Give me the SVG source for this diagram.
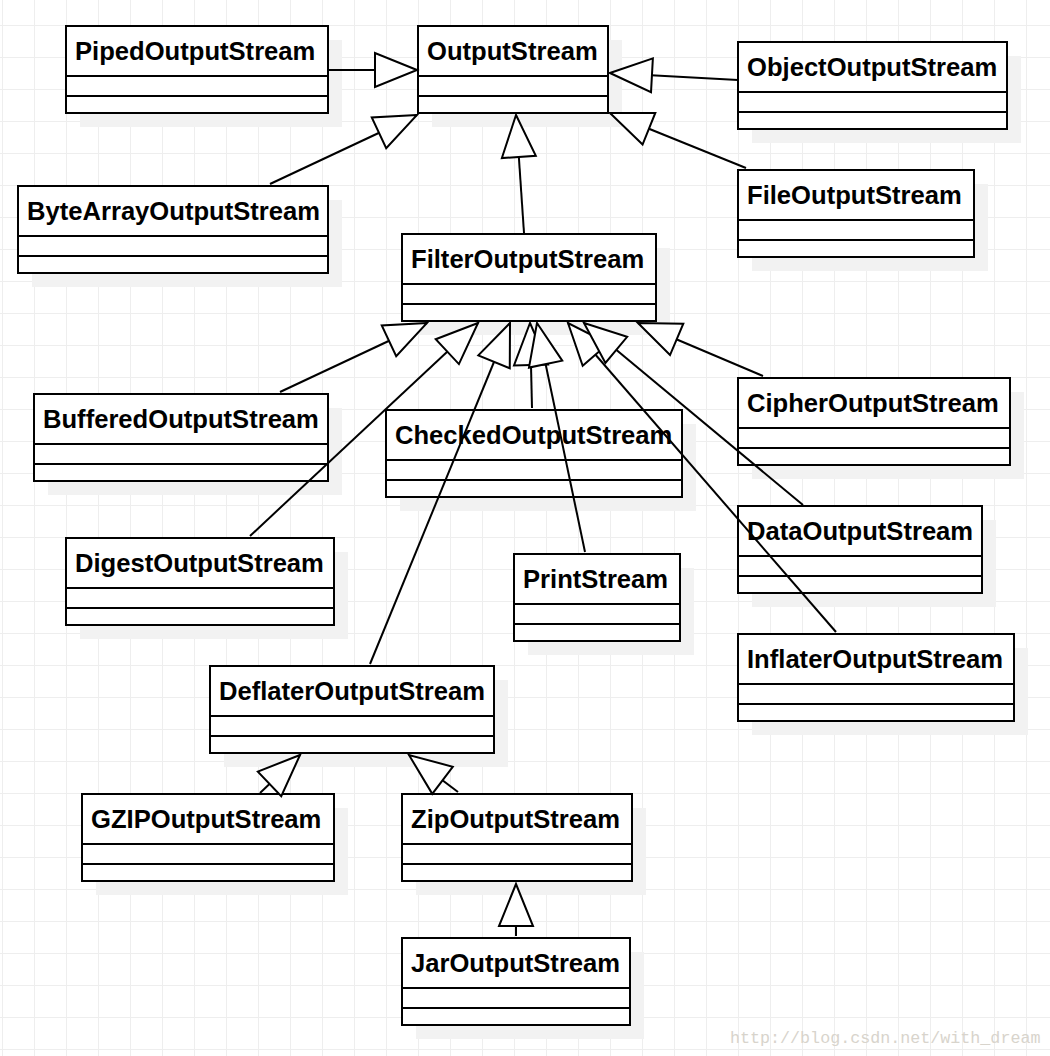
<svg xmlns="http://www.w3.org/2000/svg" width="1050" height="1056" viewBox="0 0 1050 1056">
<style>
.sh{fill:#f2f2f2;stroke:none}
.box{fill:#ffffff;stroke:#000000;stroke-width:2}
.div{stroke:#000000;stroke-width:2}
.t{font-family:"Liberation Sans",Arial,sans-serif;font-weight:bold;font-size:25.6px;fill:#000000}
.c{fill:none;stroke:#000000;stroke-width:2}
.wm{font-family:"Liberation Mono","DejaVu Sans Mono",monospace;font-size:16.7px;fill:#d8d4cc}
</style>
<defs>
<pattern id="grid" x="2" y="25" width="32" height="32" patternUnits="userSpaceOnUse">
<path d="M0,0.5 H32 M0.5,0 V32" fill="none" stroke="#eeeeee" stroke-width="1"/>
</pattern>
<marker id="tri" markerUnits="userSpaceOnUse" viewBox="-45 -20 48 40" markerWidth="48" markerHeight="40" refX="0" refY="0" orient="auto" overflow="visible">
<path d="M0,0 L-42,-17 L-42,17 Z" fill="#ffffff" stroke="#000000" stroke-width="2" stroke-linejoin="miter"/>
</marker>
</defs>
<rect x="0" y="0" width="1050" height="1056" fill="#ffffff"/>
<rect x="0" y="0" width="1050" height="1056" fill="url(#grid)"/>

<g id="shadows">
<rect class="sh" x="80" y="40" width="262" height="87"/>
<rect class="sh" x="432" y="40" width="190" height="87"/>
<rect class="sh" x="752" y="56" width="269" height="87"/>
<rect class="sh" x="32" y="200" width="310" height="87"/>
<rect class="sh" x="752" y="184" width="236" height="87"/>
<rect class="sh" x="416" y="248" width="254" height="87"/>
<rect class="sh" x="48" y="408" width="294" height="87"/>
<rect class="sh" x="752" y="392" width="272" height="87"/>
<rect class="sh" x="400" y="424" width="296" height="87"/>
<rect class="sh" x="80" y="552" width="268" height="87"/>
<rect class="sh" x="752" y="520" width="244" height="87"/>
<rect class="sh" x="528" y="568" width="166" height="87"/>
<rect class="sh" x="752" y="648" width="276" height="87"/>
<rect class="sh" x="224" y="680" width="284" height="87"/>
<rect class="sh" x="96" y="808" width="252" height="87"/>
<rect class="sh" x="416" y="808" width="230" height="87"/>
<rect class="sh" x="416" y="952" width="228" height="87"/>
</g>

<g id="OutputStream"><rect class="box" x="418" y="26" width="190" height="87"/><path class="div" d="M418,76 H608 M418,96 H608"/><text class="t" x="427" y="60">OutputStream</text></g>
<g id="PipedOutputStream"><rect class="box" x="66" y="26" width="262" height="87"/><path class="div" d="M66,76 H328 M66,96 H328"/><text class="t" x="75" y="60">PipedOutputStream</text></g>
<g id="ObjectOutputStream"><rect class="box" x="738" y="42" width="269" height="87"/><path class="div" d="M738,92 H1007 M738,112 H1007"/><text class="t" x="747" y="76">ObjectOutputStream</text></g>
<g id="ByteArrayOutputStream"><rect class="box" x="18" y="186" width="310" height="87"/><path class="div" d="M18,236 H328 M18,256 H328"/><text class="t" x="27" y="220">ByteArrayOutputStream</text></g>
<g id="FileOutputStream"><rect class="box" x="738" y="170" width="236" height="87"/><path class="div" d="M738,220 H974 M738,240 H974"/><text class="t" x="747" y="204">FileOutputStream</text></g>
<g id="FilterOutputStream"><rect class="box" x="402" y="234" width="254" height="87"/><path class="div" d="M402,284 H656 M402,304 H656"/><text class="t" x="411" y="268">FilterOutputStream</text></g>
<g id="BufferedOutputStream"><rect class="box" x="34" y="394" width="294" height="87"/><path class="div" d="M34,444 H328 M34,464 H328"/><text class="t" x="43" y="428">BufferedOutputStream</text></g>
<g id="CipherOutputStream"><rect class="box" x="738" y="378" width="272" height="87"/><path class="div" d="M738,428 H1010 M738,448 H1010"/><text class="t" x="747" y="412">CipherOutputStream</text></g>
<g id="CheckedOutputStream"><rect class="box" x="386" y="410" width="296" height="87"/><path class="div" d="M386,460 H682 M386,480 H682"/><text class="t" x="395" y="444">CheckedOutputStream</text></g>
<g id="DigestOutputStream"><rect class="box" x="66" y="538" width="268" height="87"/><path class="div" d="M66,588 H334 M66,608 H334"/><text class="t" x="75" y="572">DigestOutputStream</text></g>
<g id="DataOutputStream"><rect class="box" x="738" y="506" width="244" height="87"/><path class="div" d="M738,556 H982 M738,576 H982"/><text class="t" x="747" y="540">DataOutputStream</text></g>
<g id="PrintStream"><rect class="box" x="514" y="554" width="166" height="87"/><path class="div" d="M514,604 H680 M514,624 H680"/><text class="t" x="523" y="588">PrintStream</text></g>
<g id="InflaterOutputStream"><rect class="box" x="738" y="634" width="276" height="87"/><path class="div" d="M738,684 H1014 M738,704 H1014"/><text class="t" x="747" y="668">InflaterOutputStream</text></g>
<g id="DeflaterOutputStream"><rect class="box" x="210" y="666" width="284" height="87"/><path class="div" d="M210,716 H494 M210,736 H494"/><text class="t" x="219" y="700">DeflaterOutputStream</text></g>
<g id="GZIPOutputStream"><rect class="box" x="82" y="794" width="252" height="87"/><path class="div" d="M82,844 H334 M82,864 H334"/><text class="t" x="91" y="828">GZIPOutputStream</text></g>
<g id="ZipOutputStream"><rect class="box" x="402" y="794" width="230" height="87"/><path class="div" d="M402,844 H632 M402,864 H632"/><text class="t" x="411" y="828">ZipOutputStream</text></g>
<g id="JarOutputStream"><rect class="box" x="402" y="938" width="228" height="87"/><path class="div" d="M402,988 H630 M402,1008 H630"/><text class="t" x="411" y="972">JarOutputStream</text></g>

<g id="connectors">
<line class="c" x1="328" y1="70" x2="417" y2="70" marker-end="url(#tri)"/>
<line class="c" x1="738" y1="80" x2="610" y2="73" marker-end="url(#tri)"/>
<line class="c" x1="270" y1="184" x2="417" y2="115" marker-end="url(#tri)"/>
<line class="c" x1="746" y1="168" x2="610" y2="113" marker-end="url(#tri)"/>
<line class="c" x1="524" y1="233" x2="516" y2="115" marker-end="url(#tri)"/>
<line class="c" x1="280" y1="392" x2="427" y2="323" marker-end="url(#tri)"/>
<line class="c" x1="250" y1="536" x2="478" y2="323" marker-end="url(#tri)"/>
<line class="c" x1="370" y1="664" x2="510" y2="323" marker-end="url(#tri)"/>
<line class="c" x1="532" y1="408" x2="530" y2="323" marker-end="url(#tri)"/>
<line class="c" x1="585" y1="552" x2="537" y2="323" marker-end="url(#tri)"/>
<line class="c" x1="836" y1="632" x2="568" y2="323" marker-end="url(#tri)"/>
<line class="c" x1="803" y1="505" x2="584" y2="323" marker-end="url(#tri)"/>
<line class="c" x1="763" y1="376" x2="638" y2="323" marker-end="url(#tri)"/>
<line class="c" x1="260" y1="793" x2="300" y2="755" marker-end="url(#tri)"/>
<line class="c" x1="458" y1="792" x2="409" y2="755" marker-end="url(#tri)"/>
<line class="c" x1="516" y1="936" x2="516" y2="884" marker-end="url(#tri)"/>
</g>

<text class="wm" x="730" y="1043">http://blog.csdn.net/with_dream</text>
</svg>
